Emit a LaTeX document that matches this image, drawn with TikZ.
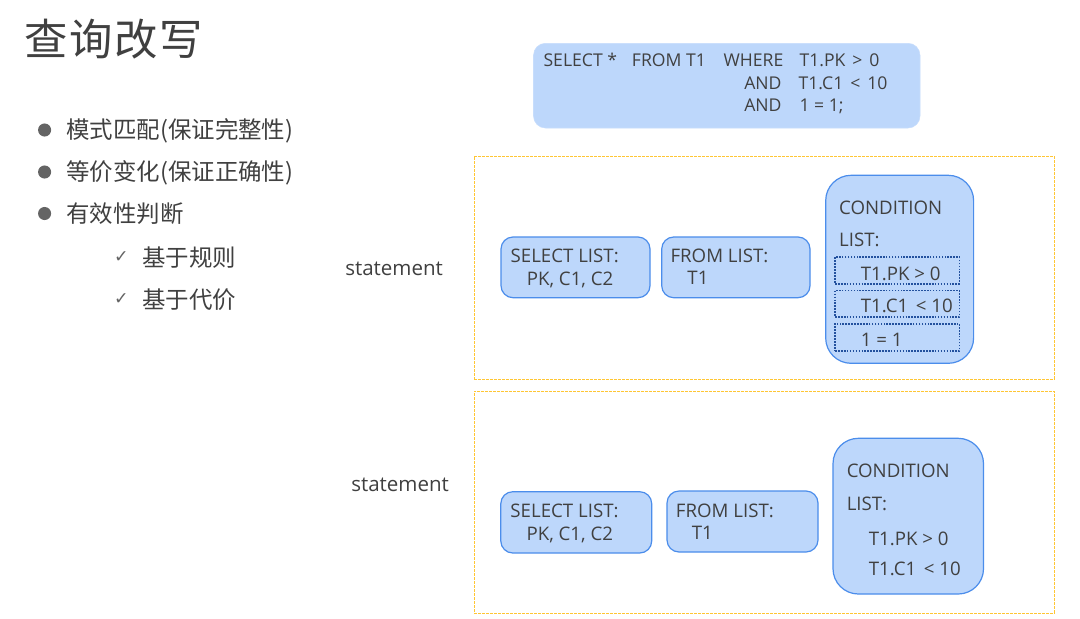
\documentclass[tikz,border=0pt]{standalone}
\usepackage{fontspec}
\setmainfont{Open Sans}
\newfontfamily\cjk{Noto Sans CJK SC}
\newfontfamily\symf{DejaVu Sans}
\usetikzlibrary{fit}
\definecolor{txt}{HTML}{404040}
\definecolor{boxfill}{HTML}{BDD7FB}
\definecolor{boxline}{HTML}{4B8DEB}
\definecolor{dotline}{HTML}{23519E}
\definecolor{framec}{HTML}{FFC634}
\definecolor{bul}{HTML}{646464}
\newcommand{\wsp}{\hspace{1.8pt}}
\tikzset{
  lbox/.style={draw=boxline, line width=0.9pt, fill=boxfill, rounded corners=9pt, inner sep=0pt},
  cbox/.style={lbox, rounded corners=19pt},
  sqlbox/.style={fill=boxfill, draw=boxfill!85!white, rounded corners=9pt, inner sep=0pt},
  dotbox/.style={draw=dotline, line width=1.2pt, densely dotted, inner sep=0pt},
  framebox/.style={draw=framec, line width=0.6pt, dash pattern=on 2pt off 1pt, inner sep=0pt},
  lbl/.style={anchor=base west, inner sep=0pt, text=txt, font=\fontsize{14}{16}\selectfont},
  sql/.style={anchor=base west, inner sep=0pt, text=txt, font=\fontsize{13.2}{15}\selectfont},
  stm/.style={anchor=base west, inner sep=0pt, text=txt, font=\fontsize{15.4}{18}\selectfont},
  bt/.style={anchor=west, inner sep=0pt, text=txt, font=\cjk\fontsize{17.6}{20}\selectfont},
  bdot/.style={circle, fill=bul, inner sep=0pt, minimum size=9.8pt},
  chk/.style={anchor=center, inner sep=0pt, text=bul, font=\symf\fontsize{13}{15}\selectfont},
}
\begin{document}
\begin{tikzpicture}[x=0.75pt,y=-0.75pt]
\useasboundingbox (0,0) rectangle (1080,618);
\fill[white] (0,0) rectangle (1080,618);

% title
\node[anchor=west, inner sep=0pt, text=txt, font=\cjk\fontsize{32.5}{38}\selectfont] (title) at (24,39.5) {查\kern1.2pt 询\kern1.2pt 改\kern1.2pt 写};

% bullets
\node[bdot] (b1) at (44.6,130) {};
\node[bdot] (b2) at (44.6,172) {};
\node[bdot] (b3) at (44.6,213.5) {};
\node[bt] (t1) at (66,130.5) {模式匹配(保证完整性)};
\node[bt] (t2) at (66,172.5) {等价变化(保证正确性)};
\node[bt] (t3) at (66,214) {有效性判断};
\node[chk] (c1) at (121.5,257) {✓};
\node[chk] (c2) at (121.5,299) {✓};
\node[bt] (t4) at (142,257.5) {基于规则};
\node[bt] (t5) at (142,299.5) {基于代价};

% top SQL box
\node[sqlbox, fit={(533.5,43.3) (920,128)}] (sqlb) {};
\node[sql] (q1) at (543.3,66) {SELECT *};
\node[sql] (q2) at (631.7,66) {FROM T1};
\node[sql] (q3) at (723.3,66) {WHERE};
\node[sql] (q4) at (799.3,66) {T1.PK \wsp> \wsp0};
\node[sql] (q5) at (744,89.3) {AND};
\node[sql] (q6) at (798.3,89.3) {T1.C1 \wsp< \wsp10};
\node[sql] (q7) at (744,111.7) {AND};
\node[sql] (q8) at (799.3,111.7) {1 = 1;};

% frame 1
\node[framebox, fit={(474,156) (1054,379)}] (f1) {};
\node[stm] (s1) at (345,275) {statement};
\node[lbox, fit={(501,237) (650,297.7)}] (sel1) {};
\node[lbox, fit={(661.7,237) (810,297.7)}] (from1) {};
\node[cbox, fit={(825.7,175.3) (973.6,363.3)}] (cond1) {};
\node[dotbox, fit={(835.1,257) (959.4,283.7)}] (d1) {};
\node[dotbox, fit={(835.1,290.3) (959.4,317)}] (d2) {};
\node[dotbox, fit={(835.1,323.7) (959.4,351)}] (d3) {};
\node[lbl] (sl1) at (510.4,262.7) {SELECT LIST:};
\node[lbl] (sl2) at (526.6,285) {PK, C1, C2};
\node[lbl] (fl1) at (670.3,262.7) {FROM LIST:};
\node[lbl] (fl2) at (687.2,284.7) {T1};
\node[lbl] (cl1) at (838.9,214.3) {CONDITION};
\node[lbl] (cl2) at (838.9,246.7) {LIST:};
\node[lbl] (cl3) at (860.6,280) {T1.PK > 0};
\node[lbl] (cl4) at (860.6,312.7) {T1.C1 \hspace{2pt}< 10};
\node[lbl] (cl5) at (860.6,346) {1 = 1};

% frame 2
\node[framebox, fit={(474,391) (1054,613)}] (f2) {};
\node[stm] (s2) at (351,491) {statement};
\node[lbox, fit={(500.8,491.7) (651.7,553)}] (sel2) {};
\node[lbox, fit={(667,491) (818,552)}] (from2) {};
\node[cbox, fit={(833,438.3) (983.5,594)}] (cond2) {};
\node[lbl] (sm1) at (510.2,517.7) {SELECT LIST:};
\node[lbl] (sm2) at (526.3,540) {PK, C1, C2};
\node[lbl] (fm1) at (675.7,517.2) {FROM LIST:};
\node[lbl] (fm2) at (691.5,539.5) {T1};
\node[lbl] (cm1) at (846.5,477.7) {CONDITION};
\node[lbl] (cm2) at (846.5,510) {LIST:};
\node[lbl] (cm3) at (868.6,545) {T1.PK > 0};
\node[lbl] (cm4) at (868.6,575.7) {T1.C1 \hspace{2pt}< 10};
\end{tikzpicture}
\end{document}
